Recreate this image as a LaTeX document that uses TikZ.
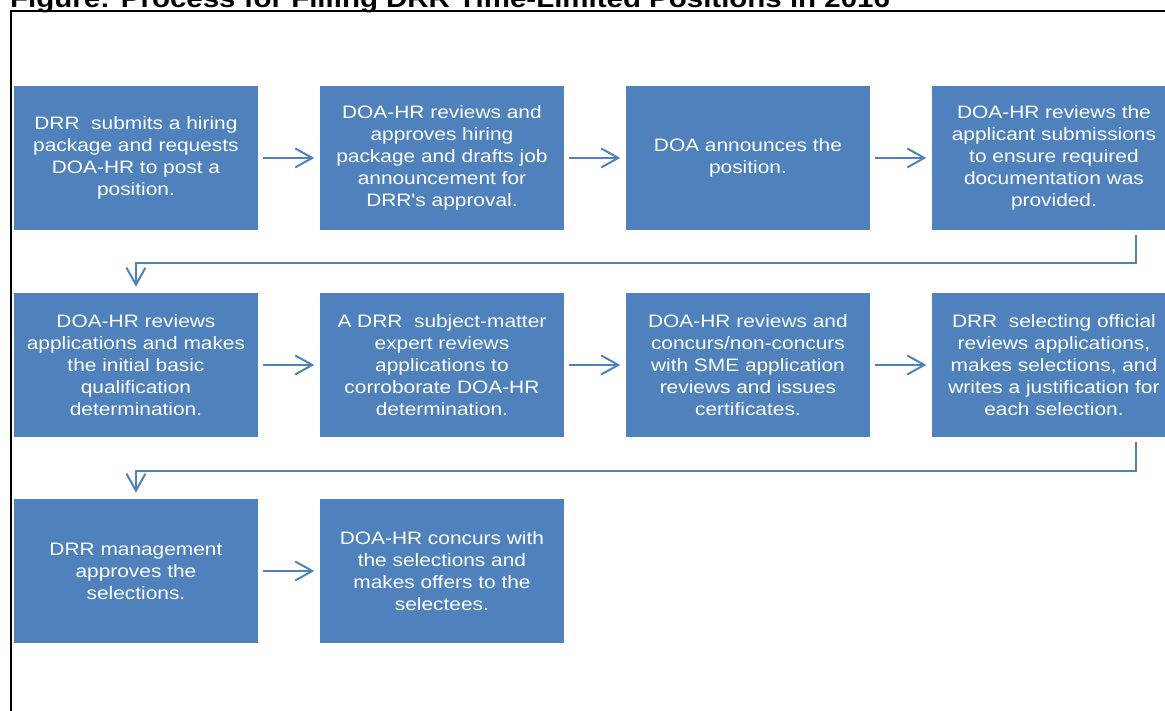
\documentclass[tikz,border=0pt]{standalone}
\usepackage{fontspec}
\setmainfont{Liberation Sans}
\newfontfamily\boxfont[FakeStretch=1.16]{Liberation Sans}
\newfontfamily\titlefont[FakeStretch=1.16]{Liberation Sans}
\usetikzlibrary{arrows.meta}
\definecolor{boxblue}{HTML}{4F81BD}
\tikzset{
  stepbox/.style={fill=boxblue, minimum width=243.5pt, minimum height=143.5pt,
    inner sep=0pt, anchor=north west, text=white, align=center,
    font=\boxfont\fontsize{18}{22}\selectfont},
  flow/.style={draw=boxblue, line width=2pt,
    -{Straight Barb[length=17pt,width=19pt,line width=2pt]}},
  frameline/.style={draw=black, line width=2.5pt},
}
\begin{document}
\begin{tikzpicture}[x=1pt,y=-1pt]
\useasboundingbox (0,0) rectangle (1165,710);
\clip (0,0) rectangle (1165,710);
\node[anchor=base west, inner sep=0pt, font=\titlefont\bfseries\fontsize{25.4}{30}\selectfont] (title) at (10,7.3)
  {Figure: Process for Filling DRR Time-Limited Positions in 2016};
\draw[frameline] (11,730) -- (11,11.2) -- (1180,11.2);

% row 1
\node[stepbox] (b1) at (14,86) {DRR\ \ submits a hiring\\package and requests\\DOA-HR to post a\\position.};
\node[stepbox] (b2) at (320,86) {DOA-HR reviews and\\approves hiring\\package and drafts job\\announcement for\\DRR's approval.};
\node[stepbox] (b3) at (626,86) {DOA announces the\\position.};
\node[stepbox] (b4) at (932,86) {DOA-HR reviews the\\applicant submissions\\to ensure required\\documentation was\\provided.};
% row 2
\node[stepbox] (b5) at (14,293) {DOA-HR reviews\\applications and makes\\the initial basic\\qualification\\determination.};
\node[stepbox] (b6) at (320,293) {A DRR\ \ subject-matter\\expert reviews\\applications to\\corroborate DOA-HR\\determination.};
\node[stepbox] (b7) at (626,293) {DOA-HR reviews and\\concurs/non-concurs\\with SME application\\reviews and issues\\certificates.};
\node[stepbox] (b8) at (932,293) {DRR\ \ selecting official\\reviews applications,\\makes selections, and\\writes a justification for\\each selection.};
% row 3
\node[stepbox] (b9) at (14,499) {DRR management\\approves the\\selections.};
\node[stepbox] (b10) at (320,499) {DOA-HR concurs with\\the selections and\\makes offers to the\\selectees.};

% horizontal arrows
\foreach \a/\b in {b1/b2,b2/b3,b3/b4,b5/b6,b6/b7,b7/b8,b9/b10}
  \draw[flow] ([xshift=5.5pt]\a.east) -- ([xshift=-5.7pt]\b.west);

% row connectors
\coordinate (r1) at (600,263.3);
\coordinate (r2) at (600,470.5);
\draw[flow] ([xshift=82.25pt,yshift=-5.5pt]b4.south) |- (r1) -| ([yshift=6.3pt]b5.north);
\draw[flow] ([xshift=82.25pt,yshift=-5.5pt]b8.south) |- (r2) -| ([yshift=6.3pt]b9.north);
\end{tikzpicture}
\end{document}
